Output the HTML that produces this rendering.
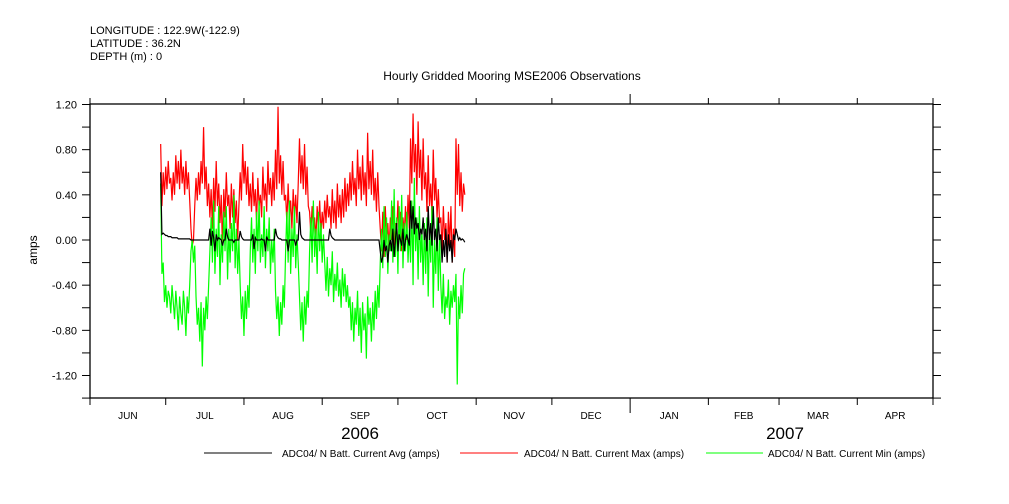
<!DOCTYPE html>
<html><head><meta charset="utf-8"><style>
body{margin:0;background:#fff;}
svg{display:block;font-family:"Liberation Sans",sans-serif;}
</style></head><body>
<svg id="chart" width="1009" height="504" viewBox="0 0 1009 504">
<text x="90" y="34" font-size="11">LONGITUDE : 122.9W(-122.9)</text>
<text x="90" y="47" font-size="11">LATITUDE : 36.2N</text>
<text x="90" y="60" font-size="11">DEPTH (m) : 0</text>
<text x="512" y="80" font-size="12" text-anchor="middle">Hourly Gridded Mooring MSE2006 Observations</text>
<text transform="translate(37,250) rotate(-90)" font-size="12" text-anchor="middle">amps</text>
<g id="axes"></g>
<g id="series"></g>
<text x="360" y="439" font-size="17" text-anchor="middle">2006</text>
<text x="785" y="439" font-size="17" text-anchor="middle">2007</text>
<g>
<line x1="204" y1="453" x2="272" y2="453" stroke="#000"/>
<text x="282" y="457" font-size="10">ADC04/ N Batt. Current Avg (amps)</text>
<line x1="460" y1="453" x2="518" y2="453" stroke="#f00"/>
<text x="524" y="457" font-size="10">ADC04/ N Batt. Current Max (amps)</text>
<line x1="706" y1="453" x2="763" y2="453" stroke="#0f0"/>
<text x="768" y="457" font-size="10">ADC04/ N Batt. Current Min (amps)</text>
</g>
</svg>
<script>
const monthLabels=["JUN","JUL","AUG","SEP","OCT","NOV","DEC","JAN","FEB","MAR","APR"];
const monthDays=[30,31,31,30,31,30,31,31,28,31,30];
const yTicks=[1.2,0.8,0.4,0.0,-0.4,-0.8,-1.2];
const startDay=28;
const stepDay=0.5;
const maxVals=[0.85,0.3,0.6,0.4,0.65,0.45,0.7,0.5,0.55,0.35,0.6,0.4,0.75,0.5,0.7,0.45,0.8,0.5,0.65,0.4,0.7,0.45,0.6,0.35,
0.1,-0.05,0.0,0.3,
0.55,0.35,0.6,0.4,0.7,0.5,1.0,0.45,0.65,0.3,0.5,
0.2,0.45,0.1,0.55,0.25,0.7,0.3,0.5,0.15,0.4,-0.1,0.45,0.2,0.6,0.3,0.4,0.1,0.5,0.2,0.45,0.15,0.35,0.0,0.3,
0.6,0.35,0.85,0.5,0.7,0.4,0.65,0.3,
0.5,0.25,0.6,0.3,0.45,0.15,0.55,0.3,0.4,0.2,0.65,0.35,0.5,0.25,0.7,0.4,0.55,0.3,0.6,0.35,
0.8,0.45,1.18,0.5,0.75,0.4,0.7,0.35,
0.4,0.15,0.5,0.2,0.35,0.1,0.45,0.2,0.4,0.15,0.5,
0.9,0.5,0.75,0.45,0.85,0.4,0.65,0.3,
0.25,0.05,0.3,0.1,0.2,0.0,0.3,0.1,0.35,0.05,0.25,0.1,
0.35,0.15,0.4,0.2,0.3,0.1,0.45,0.15,0.35,0.1,0.5,0.2,0.4,0.15,0.45,0.2,0.55,0.25,0.5,0.3,
0.6,0.35,0.7,0.4,0.55,0.3,0.8,0.45,0.65,0.35,0.75,0.4,0.6,0.3,0.95,0.45,0.7,0.4,0.8,0.35,0.55,0.25,0.6,0.3,
0.1,-0.1,0.25,-0.15,0.3,0.0,0.15,-0.1,
0.2,0.0,0.3,-0.05,0.15,0.05,0.35,0.0,0.25,-0.1,0.2,0.05,0.3,0.0,0.4,0.1,
0.9,0.5,1.12,0.6,0.85,0.4,1.05,0.55,0.8,0.35,0.9,0.45,
0.6,0.25,0.75,0.3,0.5,0.2,0.8,0.35,0.55,0.2,0.45,0.15,
0.2,-0.1,0.3,0.0,0.15,-0.2,0.25,-0.05,0.3,-0.2,0.1,-0.15,
0.9,0.4,0.85,0.3,0.6,0.25,0.5,0.4];
const minVals=[0.5,-0.3,-0.2,-0.55,-0.4,-0.6,-0.45,-0.5,-0.65,-0.4,-0.55,-0.7,-0.45,-0.6,-0.8,-0.5,-0.65,-0.75,-0.45,-0.6,-0.85,-0.5,-0.65,-0.4,
-0.1,0.0,-0.2,-0.05,
-0.5,-0.75,-0.6,-0.9,-0.55,-1.12,-0.6,-0.8,-0.5,-0.7,-0.4,
-0.1,0.2,-0.2,0.35,-0.3,0.1,-0.15,0.3,-0.4,0.05,-0.2,0.25,-0.1,0.3,-0.35,0.1,-0.2,0.15,-0.1,0.4,-0.25,0.1,-0.3,0.0,
-0.4,-0.7,-0.5,-0.85,-0.45,-0.7,-0.4,-0.6,
-0.1,0.2,-0.2,0.1,-0.3,0.25,-0.1,0.35,-0.2,0.05,-0.15,0.3,-0.25,0.1,-0.1,0.2,-0.3,0.0,-0.2,0.1,
-0.45,-0.7,-0.5,-0.85,-0.55,-0.75,-0.4,-0.6,
-0.1,0.25,-0.2,0.35,-0.3,0.1,-0.15,0.3,-0.25,0.05,-0.2,
-0.5,-0.8,-0.55,-0.9,-0.5,-0.75,-0.45,-0.6,
-0.1,0.2,-0.2,0.35,-0.15,0.1,-0.3,0.25,-0.1,0.15,-0.2,0.05,
-0.2,-0.45,-0.15,-0.5,-0.25,-0.4,-0.1,-0.55,-0.3,-0.45,-0.2,-0.5,-0.35,-0.6,-0.25,-0.5,-0.3,-0.55,-0.4,-0.6,
-0.5,-0.8,-0.55,-0.9,-0.6,-0.75,-0.45,-0.85,-0.6,-1.0,-0.55,-0.8,-0.65,-1.05,-0.5,-0.75,-0.6,-0.9,-0.55,-0.8,-0.45,-0.7,-0.4,-0.6,
-0.2,0.1,-0.25,0.3,-0.15,0.2,-0.3,0.05,
-0.1,0.35,-0.2,0.45,-0.15,0.2,-0.3,0.3,-0.1,0.4,-0.25,0.15,-0.1,0.25,-0.2,0.1,
-0.2,0.35,-0.4,0.55,-0.1,0.2,-0.35,0.3,-0.2,0.1,-0.4,0.15,
-0.3,0.2,-0.5,0.1,-0.2,0.3,-0.6,0.0,-0.3,0.2,-0.45,0.05,
-0.4,-0.65,-0.3,-0.7,-0.5,-0.6,-0.35,-0.75,-0.45,-0.6,-0.4,-0.55,
-0.3,-1.28,-0.5,-0.7,-0.4,-0.65,-0.3,-0.25];
const avgVals=[0.6,0.05,0.06,0.05,0.04,0.04,0.03,0.03,0.03,0.02,0.02,0.02,0.02,0.02,0.01,0.01,0.01,0.01,0.01,0.01,0.01,0.01,0.01,0.01,
0.0,0.0,0.0,0.0,
0.0,0.0,0.0,0.0,0.0,0.0,0.0,0.0,0.0,0.0,0.0,
0.1,-0.05,0.08,0.02,-0.1,0.05,0.0,0.02,0.01,0.0,-0.05,0.0,0.0,0.1,0.03,0.0,0.0,0.0,0.0,-0.02,0.0,0.0,0.0,0.0,
0.08,0.03,0.01,0.0,0.0,0.0,0.0,0.0,
0.0,0.0,0.05,-0.08,0.02,0.0,0.0,0.0,0.0,0.01,0.0,0.0,-0.1,0.03,0.0,0.0,0.0,0.0,0.0,0.0,
0.1,0.04,0.02,0.01,0.01,0.0,0.0,0.0,
0.0,0.0,-0.1,0.0,0.0,0.0,0.0,0.0,-0.05,0.0,0.0,
0.25,0.05,0.02,0.01,0.0,0.0,0.0,0.0,
0.0,0.0,0.0,0.0,0.0,0.0,0.0,0.0,0.0,0.0,0.0,0.0,
0.0,0.0,0.0,0.0,0.1,0.04,0.02,0.01,0.0,0.0,0.0,0.0,0.0,0.0,0.0,0.0,0.0,0.0,0.0,0.0,
0.0,0.0,0.0,0.0,0.0,0.0,0.0,0.0,0.0,0.0,0.0,0.0,0.0,0.0,0.0,0.0,0.0,0.0,0.0,0.0,0.0,0.0,0.0,0.0,
-0.1,-0.2,-0.15,0.0,-0.1,-0.05,-0.2,-0.05,
0.0,-0.1,0.1,-0.15,0.0,0.15,-0.1,0.05,0.0,-0.05,0.1,-0.1,0.0,0.05,0.0,-0.05,
0.35,0.1,0.3,0.05,0.2,0.1,0.15,0.0,0.1,0.05,0.2,0.0,
0.1,-0.1,0.3,0.0,0.15,-0.05,0.3,0.0,0.1,-0.1,0.2,0.0,
0.05,-0.2,0.0,-0.15,0.1,-0.2,0.05,-0.1,0.0,-0.2,0.05,0.0,
0.1,0.05,0.0,0.02,0.0,0.01,0.0,-0.02];

const NS="http://www.w3.org/2000/svg";
const L=90,R=933,T=104,B=398;
const totalDays=334;
function xScale(d){return L+d*(R-L)/totalDays;}
function yScale(v){return 240-v*(271/2.4);}
function mk(tag,attrs,parent){const e=document.createElementNS(NS,tag);for(const k in attrs)e.setAttribute(k,attrs[k]);parent.appendChild(e);return e;}
const ax=document.getElementById('axes');
let f=mk('rect',{x:L,y:T,width:R-L,height:B-T,fill:'none',stroke:'#000','stroke-width':1.3},ax);


for(let v=-1.4;v<=1.41;v+=0.2){const y=yScale(v);
 if(y<T-1||y>B+1)continue;
 let t1=mk('line',{x1:L-8,y1:y,x2:L,y2:y,stroke:'#000'},ax);
 
 
 let t2=mk('line',{x1:R,y1:y,x2:R+8,y2:y,stroke:'#000'},ax);
 
 }
yTicks.forEach(v=>{const t=mk('text',{x:L-13,y:yScale(v)+4,'font-size':11,'text-anchor':'end'},ax);t.textContent=v.toFixed(2);
 
 });
let d=0;
for(let i=0;i<=monthLabels.length;i++){
 const x=xScale(d);const big=(i===7);
 let b=mk('line',{x1:x,y1:B,x2:x,y2:B+(big?15:7),stroke:'#000'},ax);
 
 
 let tp=mk('line',{x1:x,y1:T,x2:x,y2:T-(big?10:6),stroke:'#000'},ax);
 
 
 if(i<monthLabels.length){const xm=xScale(d+monthDays[i]/2);
  const t=mk('text',{x:xm,y:419,'font-size':10,'text-anchor':'middle'},ax);t.textContent=monthLabels[i];
  
  
  d+=monthDays[i];}
}
const sg=document.getElementById('series');
function drawSeries(vals,color,name){
 const pts=vals.map((v,i)=>xScale(startDay+i*stepDay).toFixed(2)+','+yScale(v).toFixed(2)).join(' ');
 const p=mk('polyline',{points:pts,fill:'none',stroke:color,'stroke-width':1.2},sg);
 
 
}
drawSeries(maxVals,'#f00','series-max');
drawSeries(minVals,'#0f0','series-min');
drawSeries(avgVals,'#000','series-avg');
</script>
</body></html>
